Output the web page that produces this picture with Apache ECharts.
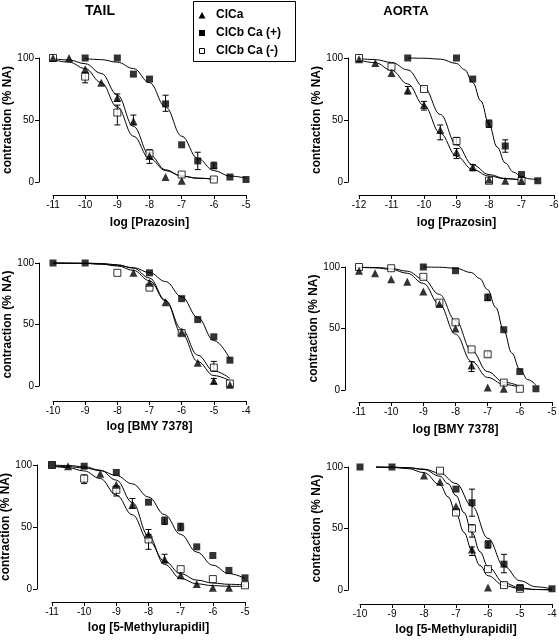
<!DOCTYPE html>
<html>
<head>
<meta charset="utf-8">
<script src="https://cdn.jsdelivr.net/npm/echarts@6/dist/echarts.min.js"></script>
<style>html,body{margin:0;padding:0;background:#fff}#c{width:559px;height:640px}</style>
</head>
<body>
<div id="c"></div>
<script>
// ---------- DATA ----------
const seriesNames = ['ClCa', 'ClCb Ca (+)', 'ClCb Ca (-)'];
const xTicksTail1 = [-11, -5];   // axis extents per panel (min, max)
const xTicksAorta1 = [-12, -6];
const xTicksTail2 = [-10, -4];
const xTicksAorta2 = [-11, -5];
const xTicksTail3 = [-11, -5];
const xTicksAorta3 = [-10, -4];
const yTicks = [0, 50, 100];

// Panel 1: TAIL, Prazosin
const tailPraz_ClCa = [[-11,100],[-10.5,100],[-10,91],[-9.5,80],[-9,68],[-8.5,49],[-8,21],[-7.5,4],[-7,1]];
const tailPraz_Pos = [[-10,100],[-9,100],[-8.5,87],[-8,83],[-7.5,63],[-7,30],[-6.5,17],[-6,13],[-5.5,4],[-5,2]];
const tailPraz_Neg = [[-11,100],[-10,85],[-9,56],[-8,23],[-7,6],[-6,2]];
const tailPraz_fitClCa = [[-11,99.4],[-10.5,98.4],[-10,95.4],[-9.5,87.6],[-9,70.2],[-8.5,44.8],[-8,22],[-7.5,9.8],[-7,4.8],[-6.5,3],[-6,2.3]];
const tailPraz_fitPos = [[-10,99.5],[-9.5,98.7],[-9,96.6],[-8.5,91.5],[-8,80.1],[-7.5,60.5],[-7,37],[-6.5,19],[-6,9.2],[-5.5,4.8],[-5,3.1]];
const tailPraz_fitNeg = [[-11,98.7],[-10.5,96.6],[-10,91.5],[-9.5,80.1],[-9,60.5],[-8.5,37],[-8,19],[-7.5,9.2],[-7,4.8],[-6.5,3.1],[-6,2.4]];
const tailPraz_errClCa = [[-9,65,71],[-8.5,46,54],[-8,15,24]];
const tailPraz_errPos = [[-7.5,57,70],[-6.5,10,24],[-6,11,16]];
const tailPraz_errNeg = [[-10,80,88],[-9,46,62],[-8,19,26]];

// Panel 2: AORTA, Prazosin
const aortaPraz_ClCa = [[-12,99],[-11.5,96],[-11,88],[-10.5,74],[-10,62],[-9.5,42],[-9,24],[-8.5,12],[-8,2],[-7.5,1],[-7,1]];
const aortaPraz_Pos = [[-10.5,100],[-9,100],[-8.5,83],[-8,47],[-7.5,29],[-7,6],[-6.5,1]];
const aortaPraz_Neg = [[-12,100],[-11,93],[-10,75],[-9,33],[-8,1],[-7,1]];
const aortaPraz_fitClCa = [[-12,98.4],[-11.5,96.2],[-11,90.1],[-10.5,79.1],[-10,61.7],[-9.5,39.3],[-9,20.9],[-8.5,10],[-8,4.8],[-7.5,2.6],[-7,1.6]];
const aortaPraz_fitPos = [[-10.5,100],[-10,99.8],[-9.5,99.1],[-9,95.6],[-8.75,90.6],[-8.5,80.2],[-8.25,65.3],[-8,46.5],[-7.75,28.2],[-7.5,15.4],[-7.25,8],[-7,4.3],[-6.75,2.5],[-6.5,1.7]];
const aortaPraz_fitNeg = [[-12,99.5],[-11.5,98.7],[-11,96.4],[-10.5,90.4],[-10,76.3],[-9.5,54.5],[-9,30.1],[-8.5,13.8],[-8,6],[-7.5,2.8],[-7,1.6]];
const aortaPraz_errClCa = [[-10.5,71,77],[-10,58,65],[-9.5,34,46],[-9,19,27],[-8.5,9,14]];
const aortaPraz_errPos = [[-8,44,50],[-7.5,24,34]];
const aortaPraz_errNeg = [[-9,30,36]];

// Panel 3: TAIL, BMY 7378
const tailBmy_ClCa = [[-7.5,92],[-7,84],[-6.5,68],[-6,44],[-5.5,19],[-5,4],[-4.5,1]];
const tailBmy_Pos = [[-10,100],[-9,100],[-7,92],[-6,71],[-5.5,54],[-5,40],[-4.5,21]];
const tailBmy_Neg = [[-8,92],[-7,80],[-6,43],[-5,15],[-4.5,2]];
const tailBmy_fitClCa = [[-10,100],[-9,99.9],[-8.5,99.6],[-8,98.6],[-7.5,95.8],[-7,87.8],[-6.5,69.7],[-6,42.7],[-5.5,19.9],[-5,8.5],[-4.5,4.2]];
const tailBmy_fitPos = [[-10,99.9],[-9,99.6],[-8.5,99.1],[-8,98.1],[-7.5,96.2],[-7,92.2],[-6.5,84.9],[-6,72.5],[-5.5,55.7],[-5,37],[-4.5,22]];
const tailBmy_fitNeg = [[-10,100],[-9,99.7],[-8.5,99.1],[-8,97.6],[-7.5,94],[-7,85.6],[-6.5,69.2],[-6,46.2],[-5.5,25.1],[-5,12.2],[-4.5,6.1]];
const tailBmy_errClCa = [[-5,2,6]];
const tailBmy_errPos = [];
const tailBmy_errNeg = [[-5,12,20]];

// Panel 4: AORTA, BMY 7378
const aortaBmy_ClCa = [[-11,97],[-10.5,95],[-10,90],[-9.5,88],[-9,80],[-8.5,70],[-8,50],[-7.5,20],[-7,2],[-6.5,1]];
const aortaBmy_Pos = [[-9,100],[-8,97],[-7,75],[-6.5,49],[-6,15],[-5.5,1]];
const aortaBmy_Neg = [[-11,100],[-10,99],[-9,92],[-8.5,71],[-8,55],[-7.5,33],[-7,29],[-6.5,6],[-6,1]];
const aortaBmy_fitClCa = [[-11,99.8],[-10.5,99.3],[-10,98.1],[-9.5,94.9],[-9,86.7],[-8.5,69.6],[-8,45.4],[-7.5,23.2],[-7,10.2],[-6.5,4.5],[-6,2.3]];
const aortaBmy_fitPos = [[-9,100],[-8.5,99.8],[-8,99],[-7.5,95.4],[-7.25,90.6],[-7,81.6],[-6.75,67.1],[-6.5,48.4],[-6.25,30.1],[-6,16.6],[-5.75,8.4],[-5.5,4]];
const aortaBmy_fitNeg = [[-11,99.8],[-10.5,99.6],[-10,98.8],[-9.5,96.6],[-9,90.2],[-8.5,77.7],[-8,56.6],[-7.5,32],[-7,14.9],[-6.5,6.4],[-6,3]];
const aortaBmy_errClCa = [[-7.5,15,23]];
const aortaBmy_errPos = [[-7,73,78]];
const aortaBmy_errNeg = [[-7,27,31]];

// Panel 5: TAIL, 5-Methylurapidil
const tailMu_ClCa = [[-10.5,99],[-9.5,93],[-9,84],[-8.5,68],[-8,44],[-7.5,24],[-7,11],[-6.5,4],[-6,1],[-5.5,1]];
const tailMu_Pos = [[-11,100],[-10,99],[-9,94],[-8,70],[-7.5,55],[-7,50],[-6.5,34],[-6,27],[-5.5,15],[-5,9]];
const tailMu_Neg = [[-11,100],[-10,89],[-9,80],[-8,40],[-7,16],[-6,8],[-5,3]];
const tailMu_fitClCa = [[-11,99.9],[-10.5,99.6],[-10,98.6],[-9.5,95.8],[-9,87.8],[-8.5,69.7],[-8,42.7],[-7.5,19.9],[-7,8.5],[-6.5,4.2],[-6,2.7],[-5.5,2.2],[-5,2.1]];
const tailMu_fitPos = [[-11,99.3],[-10.5,98.7],[-10,97.6],[-9.5,95.5],[-9,91.5],[-8.5,84.8],[-8,74.2],[-7.5,60],[-7,44],[-6.5,29.8],[-6,19.2],[-5.5,12.4],[-5,8.5]];
const tailMu_fitNeg = [[-11,99.1],[-10.5,97.9],[-10,95.2],[-9.5,89.1],[-9,75.7],[-8.5,59.8],[-8,39.2],[-7.5,22.5],[-7,12.3],[-6.5,7.2],[-6,4.8],[-5.5,3.8],[-5,3.3]];
const tailMu_errClCa = [[-8.5,65,73],[-8,41,48],[-7.5,21,28]];
const tailMu_errPos = [[-7.5,52,58],[-7,47,53]];
const tailMu_errNeg = [[-10,85,92],[-9,75,83],[-8,32,44]];

// Panel 6: AORTA, 5-Methylurapidil
const aortaMu_ClCa = [[-8,93],[-7.5,88],[-7,68],[-6.5,33],[-6,2]];
const aortaMu_Pos = [[-10,100],[-9,100],[-7,82],[-6.5,71],[-6,37],[-5.5,21],[-5,2],[-4,1]];
const aortaMu_Neg = [[-7.5,97],[-7,63],[-6.5,50],[-6,17],[-5.5,4],[-5,1]];
const aortaMu_fitClCa = [[-9.5,99.9],[-9,99.6],[-8.5,98.7],[-8,95.4],[-7.5,85.5],[-7.25,75.8],[-7,62.4],[-6.75,46.8],[-6.5,31.9],[-6.25,19.9],[-6,11.6],[-5.5,3.6],[-5,1.1],[-4.5,0.4],[-4,0.1]];
const aortaMu_fitPos = [[-9.5,99.9],[-9,99.8],[-8.5,99.4],[-8,98.3],[-7.5,95],[-7,86.6],[-6.5,68.1],[-6,42],[-5.5,19.3],[-5,7.5],[-4.5,2.6],[-4,0.9]];
const aortaMu_fitNeg = [[-9.5,100],[-9,99.8],[-8.5,99.4],[-8,97.9],[-7.5,92.5],[-7.25,86.5],[-7,76.8],[-6.75,62.9],[-6.5,46.7],[-6.25,31.1],[-6,19],[-5.5,5.8],[-5,1.6],[-4.5,0.4],[-4,0.1]];
const aortaMu_errClCa = [[-6.5,28,35]];
const aortaMu_errPos = [[-6.5,60,82],[-6,34,40],[-5.5,14,29]];
const aortaMu_errNeg = [[-6.5,43,53]];

const xNames = ['log [Prazosin]', 'log [Prazosin]', 'log [BMY 7378]', 'log [BMY 7378]', 'log [5-Methylurapidil]', 'log [5-Methylurapidil]'];
const yName = 'contraction (% NA)';
const columnTitles = ['TAIL', 'AORTA'];

// ---------- LAYOUT ----------
const FONT = "'Liberation Sans', Arial, Helvetica, sans-serif";
const panels = [
  {left:53, top:58, width:193, height:124, ext:xTicksTail1, yOff:14, xOff:13, yGap:23, xGap:22,
   d:{c:tailPraz_ClCa, p:tailPraz_Pos, n:tailPraz_Neg, fc:tailPraz_fitClCa, fp:tailPraz_fitPos, fn:tailPraz_fitNeg, ec:tailPraz_errClCa, ep:tailPraz_errPos, en:tailPraz_errNeg}},
  {left:359, top:58, width:195, height:124, ext:xTicksAorta1, yOff:11, xOff:13, yGap:23, xGap:22,
   d:{c:aortaPraz_ClCa, p:aortaPraz_Pos, n:aortaPraz_Neg, fc:aortaPraz_fitClCa, fp:aortaPraz_fitPos, fn:aortaPraz_fitNeg, ec:aortaPraz_errClCa, ep:aortaPraz_errPos, en:aortaPraz_errNeg}},
  {left:53, top:263, width:193, height:123, ext:xTicksTail2, yOff:14, xOff:15, yGap:22, xGap:20,
   d:{c:tailBmy_ClCa, p:tailBmy_Pos, n:tailBmy_Neg, fc:tailBmy_fitClCa, fp:tailBmy_fitPos, fn:tailBmy_fitNeg, ec:tailBmy_errClCa, ep:tailBmy_errPos, en:tailBmy_errNeg}},
  {left:359, top:267, width:193, height:123, ext:xTicksAorta2, yOff:14, xOff:12, yGap:21, xGap:22,
   d:{c:aortaBmy_ClCa, p:aortaBmy_Pos, n:aortaBmy_Neg, fc:aortaBmy_fitClCa, fp:aortaBmy_fitPos, fn:aortaBmy_fitNeg, ec:aortaBmy_errClCa, ep:aortaBmy_errPos, en:aortaBmy_errNeg}},
  {left:52, top:465, width:193, height:124, ext:xTicksTail3, yOff:15, xOff:13, yGap:20, xGap:20,
   d:{c:tailMu_ClCa, p:tailMu_Pos, n:tailMu_Neg, fc:tailMu_fitClCa, fp:tailMu_fitPos, fn:tailMu_fitNeg, ec:tailMu_errClCa, ep:tailMu_errPos, en:tailMu_errNeg}},
  {left:360, top:467, width:192, height:123, ext:xTicksAorta3, yOff:12, xOff:14, yGap:22, xGap:20,
   d:{c:aortaMu_ClCa, p:aortaMu_Pos, n:aortaMu_Neg, fc:aortaMu_fitClCa, fp:aortaMu_fitPos, fn:aortaMu_fitNeg, ec:aortaMu_errClCa, ep:aortaMu_errPos, en:aortaMu_errNeg}}
];

function errRender(params, api) {
  const x = api.value(0), lo = api.value(1), hi = api.value(2);
  const a = api.coord([x, lo]), b = api.coord([x, hi]);
  const cw = 3;
  const st = {stroke:'#000', lineWidth:1};
  return {type:'group', children:[
    {type:'line', shape:{x1:a[0], y1:a[1], x2:b[0], y2:b[1]}, style:st},
    {type:'line', shape:{x1:a[0]-cw, y1:a[1], x2:a[0]+cw, y2:a[1]}, style:st},
    {type:'line', shape:{x1:b[0]-cw, y1:b[1], x2:b[0]+cw, y2:b[1]}, style:st}
  ]};
}

const grid = [], xAxis = [], yAxis = [], series = [];
panels.forEach((p, i) => {
  grid.push({left:p.left, top:p.top, width:p.width, height:p.height, containLabel:false, outerBoundsMode:'none'});
  xAxis.push({
    gridIndex:i, type:'value', min:p.ext[0], max:p.ext[1], interval:1, offset:p.xOff,
    name:xNames[i], nameLocation:'middle', nameGap:p.xGap,
    nameTextStyle:{fontFamily:FONT, fontWeight:'bold', fontSize:12, color:'#000'},
    axisLine:{show:true, onZero:false, lineStyle:{color:'#000', width:1}},
    axisTick:{show:true, length:4, lineStyle:{color:'#000', width:1}},
    axisLabel:{fontFamily:FONT, fontSize:10, color:'#000', margin:5},
    splitLine:{show:false}
  });
  yAxis.push({
    gridIndex:i, type:'value', min:yTicks[0], max:yTicks[2], interval:yTicks[1]-yTicks[0], offset:p.yOff,
    name:yName, nameLocation:'middle', nameGap:p.yGap, nameRotate:90,
    nameTextStyle:{fontFamily:FONT, fontWeight:'bold', fontSize:12, color:'#000'},
    axisLine:{show:true, lineStyle:{color:'#000', width:1}},
    axisTick:{show:true, length:4, lineStyle:{color:'#000', width:1}},
    axisLabel:{fontFamily:FONT, fontSize:10, color:'#000', margin:5},
    splitLine:{show:false}
  });
  const common = {xAxisIndex:i, yAxisIndex:i, silent:true, clip:false, animation:false};
  [p.d.fn, p.d.fp, p.d.fc].forEach(f => series.push(Object.assign({
    type:'line', data:f, smooth:0.4, smoothMonotone:'x', symbol:'none', showSymbol:false,
    lineStyle:{color:'#000', width:1}, z:1
  }, common)));
  [p.d.en, p.d.ep, p.d.ec].forEach(e => series.push(Object.assign({
    type:'custom', data:e, renderItem:errRender, encode:{x:0, y:[1,2]}, z:2
  }, common)));
  series.push(Object.assign({type:'scatter', name:seriesNames[2], data:p.d.n, symbol:'rect', symbolSize:7,
    itemStyle:{color:'#fff', borderColor:'#000', borderWidth:1}, z:3}, common));
  series.push(Object.assign({type:'scatter', name:seriesNames[1], data:p.d.p, symbol:'rect', symbolSize:7,
    itemStyle:{color:'#000'}, z:4}, common));
  series.push(Object.assign({type:'scatter', name:seriesNames[0], data:p.d.c, symbol:'triangle', symbolSize:8,
    itemStyle:{color:'#000'}, z:5}, common));
});

const txt = (text, x, y, size, align) => ({type:'text', x:x, y:y, silent:true,
  style:{text:text, font:'bold ' + size + 'px ' + FONT, fill:'#000',
         textAlign:align, textVerticalAlign:'middle', align:align, verticalAlign:'middle'}});

const graphic = [
  txt(columnTitles[0], 100, 11, 14, 'center'),
  txt(columnTitles[1], 406, 11, 13, 'center'),
  {type:'rect', silent:true, shape:{x:193.5, y:1.5, width:102, height:60}, style:{fill:'#fff', stroke:'#000', lineWidth:1}},
  {type:'polygon', silent:true, shape:{points:[[198.5,18.5],[205.5,18.5],[202,12]]}, style:{fill:'#000'}},
  {type:'rect', silent:true, shape:{x:199, y:30, width:6, height:6}, style:{fill:'#000'}},
  {type:'rect', silent:true, shape:{x:199.5, y:48.5, width:5, height:5}, style:{fill:'#fff', stroke:'#000', lineWidth:1}},
  txt(seriesNames[0], 216, 15, 12, 'left'),
  txt(seriesNames[1], 216, 33, 12, 'left'),
  txt(seriesNames[2], 216, 51, 12, 'left')
];

const chart = echarts.init(document.getElementById('c'), null, {renderer:'canvas'});
chart.setOption({animation:false, backgroundColor:'#fff', grid, xAxis, yAxis, series, graphic});
</script>
</body>
</html>
